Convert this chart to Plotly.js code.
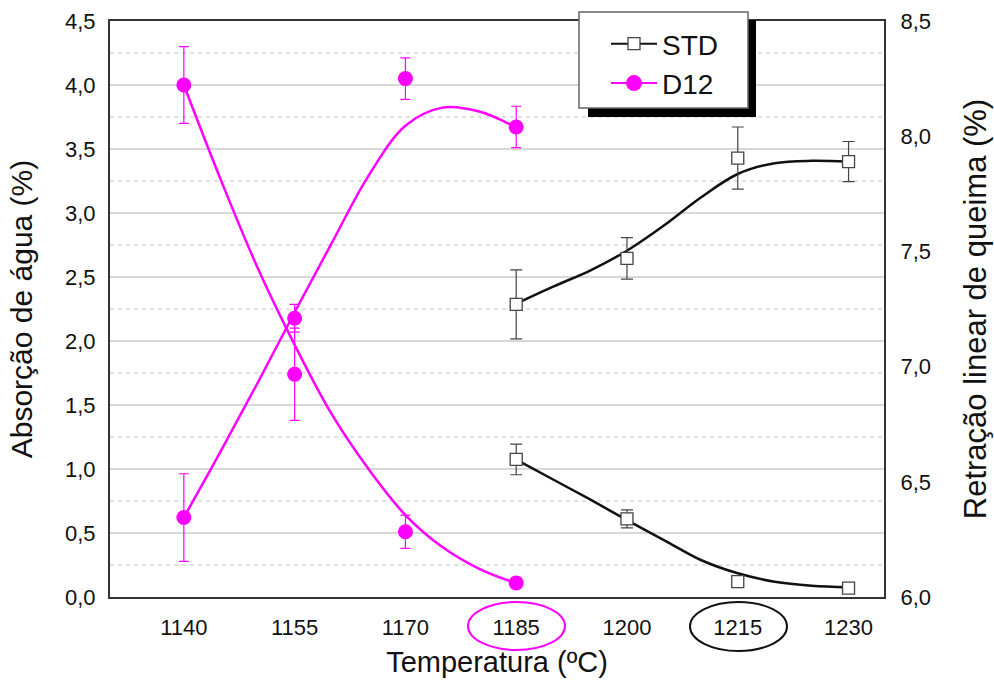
<!DOCTYPE html>
<html>
<head>
<meta charset="utf-8">
<script src="https://cdn.plot.ly/plotly-3.0.1.min.js"></script>
<style>html,body{margin:0;padding:0;background:#fff;}#chart{width:994px;height:689px;}</style>
</head>
<body>
<div id="chart"></div>
<script>
// Category positions / tick labels
const temps = [1140, 1155, 1170, 1185, 1200, 1215, 1230];
const tickLabels = ['1140', '1155', '1170', '1185', '1200', '1215', '1230'];

// D12 measurements
const d12Temps = [1140, 1155, 1170, 1185];
const d12Absorcao = [4.00, 1.74, 0.51, 0.11];
const d12AbsorcaoErr = [0.30, 0.36, 0.13, 0.02];
const d12Retracao = [6.345, 7.21, 8.25, 8.04];
const d12RetracaoErr = [0.19, 0.06, 0.09, 0.09];

// STD measurements
const stdTemps = [1185, 1200, 1215, 1230];
const stdAbsorcao = [1.075, 0.61, 0.12, 0.07];
const stdAbsorcaoErr = [0.12, 0.07, 0.03, 0.03];
const stdRetracao = [7.27, 7.47, 7.905, 7.89];
const stdRetracaoErr = [0.15, 0.09, 0.135, 0.087];

// Fitted curves
const d12FitTemps = [1140, 1145, 1150, 1155, 1160, 1165, 1170, 1175, 1180, 1185];
const d12AbsorcaoFit = [4.00, 3.26, 2.57, 1.97, 1.43, 1.00, 0.64, 0.39, 0.22, 0.107];
const d12RetracaoFit = [6.345, 6.633, 6.93, 7.236, 7.535, 7.828, 8.045, 8.124, 8.107, 8.038];
const stdFitTemps = [1185, 1190, 1195, 1200, 1205, 1210, 1215, 1220, 1225, 1230];
const stdAbsorcaoFit = [1.074, 0.918, 0.762, 0.601, 0.445, 0.289, 0.185, 0.119, 0.088, 0.076];
const stdRetracaoFit = [7.273, 7.347, 7.417, 7.503, 7.612, 7.734, 7.836, 7.883, 7.893, 7.889];

const PINK = '#ff00ff';
const BLACK = '#111111';
const FONT = 'Liberation Sans, Arial, sans-serif';

const traces = [
  // fitted curves
  {x: d12FitTemps, y: d12AbsorcaoFit, mode: 'lines', line: {color: PINK, width: 2.5, shape: 'spline', smoothing: 1}, showlegend: false, hoverinfo: 'skip'},
  {x: stdFitTemps, y: stdAbsorcaoFit, mode: 'lines', line: {color: BLACK, width: 2.5, shape: 'spline', smoothing: 1}, showlegend: false, hoverinfo: 'skip'},
  // measured points (left axis)
  {x: d12Temps, y: d12Absorcao, mode: 'markers', showlegend: false,
   marker: {symbol: 'circle', size: 15, color: PINK},
   error_y: {type: 'data', array: d12AbsorcaoErr, visible: true, color: PINK, thickness: 1.2, width: 5}},
  {x: stdTemps, y: stdAbsorcao, mode: 'markers', showlegend: false,
   marker: {symbol: 'square', size: 12, color: '#ffffff', line: {color: '#444', width: 1.3}},
   error_y: {type: 'data', array: stdAbsorcaoErr, visible: true, color: '#444', thickness: 1.2, width: 6}},
  // right axis
  {x: d12FitTemps, y: d12RetracaoFit, yaxis: 'y2', mode: 'lines', line: {color: PINK, width: 2.5, shape: 'spline', smoothing: 1}, showlegend: false, hoverinfo: 'skip'},
  {x: stdFitTemps, y: stdRetracaoFit, yaxis: 'y2', mode: 'lines', line: {color: BLACK, width: 2.5, shape: 'spline', smoothing: 1}, showlegend: false, hoverinfo: 'skip'},
  {x: d12Temps, y: d12Retracao, yaxis: 'y2', mode: 'markers', showlegend: false,
   marker: {symbol: 'circle', size: 15, color: PINK},
   error_y: {type: 'data', array: d12RetracaoErr, visible: true, color: PINK, thickness: 1.2, width: 5}},
  {x: stdTemps, y: stdRetracao, yaxis: 'y2', mode: 'markers', showlegend: false,
   marker: {symbol: 'square', size: 12, color: '#ffffff', line: {color: '#444', width: 1.3}},
   error_y: {type: 'data', array: stdRetracaoErr, visible: true, color: '#444', thickness: 1.2, width: 6}},
  // legend entries
  {x: [null], y: [null], name: 'STD', mode: 'lines+markers', line: {color: BLACK, width: 2},
   marker: {symbol: 'square', size: 12, color: '#ffffff', line: {color: '#444', width: 1.3}}},
  {x: [null], y: [null], name: 'D12', mode: 'lines+markers', line: {color: PINK, width: 2},
   marker: {symbol: 'circle', size: 16, color: PINK}}
];

function px2x(p) { return (p - 110) / 774; }
function px2y(p) { return (597 - p) / 576; }

const layout = {
  width: 994, height: 689,
  margin: {l: 110, r: 110, t: 21, b: 92},
  paper_bgcolor: '#ffffff', plot_bgcolor: '#ffffff',
  separators: ',.',
  font: {family: FONT, color: '#111'},
  showlegend: true,
  legend: {x: px2x(606), y: px2y(19), xanchor: 'left', yanchor: 'top',
           bgcolor: 'rgba(0,0,0,0)', borderwidth: 0,
           font: {family: FONT, size: 28, color: '#111'}, itemwidth: 46, tracegroupgap: 0},
  xaxis: {
    range: [1130, 1234.8], tickvals: temps, ticktext: tickLabels,
    showgrid: false, zeroline: false, ticks: '', showline: true, mirror: true,
    linecolor: '#333', linewidth: 2, ticklabelstandoff: 10,
    tickfont: {family: FONT, size: 22, color: '#111'},
    title: {text: 'Temperatura (ºC)', font: {family: FONT, size: 29, color: '#111'}, standoff: 12}
  },
  yaxis: {
    range: [0, 4.5], dtick: 0.5, tick0: 0, tickformat: '.1f',
    showgrid: true, gridcolor: '#d8d8d8', gridwidth: 1.5, zeroline: false,
    minor: {dtick: 0.25, tick0: 0, showgrid: true, gridcolor: '#e0e0e0', griddash: '4px,4px', gridwidth: 1.2},
    ticks: '', showline: true, mirror: false, linecolor: '#333', linewidth: 2, ticklabelstandoff: 8,
    tickfont: {family: FONT, size: 22, color: '#111'},
    title: {text: 'Absorção de água (%)', font: {family: FONT, size: 30, color: '#111'}, standoff: 24}
  },
  yaxis2: {
    overlaying: 'y', side: 'right', range: [6, 8.5], dtick: 0.5, tick0: 6, tickformat: '.1f',
    showgrid: false, zeroline: false, ticks: '', showline: true, linecolor: '#333', linewidth: 2,
    ticklabelstandoff: 10,
    tickfont: {family: FONT, size: 22, color: '#111'},
    title: {text: 'Retração linear de queima (%)', font: {family: FONT, size: 31, color: '#111'}, standoff: 34}
  },
  shapes: [
    // legend shadow and frame
    {type: 'rect', xref: 'paper', yref: 'paper', x0: px2x(588), x1: px2x(756), y0: px2y(117), y1: px2y(20),
     fillcolor: '#000', line: {width: 0}, layer: 'above'},
    {type: 'rect', xref: 'paper', yref: 'paper', x0: px2x(579), x1: px2x(748), y0: px2y(108), y1: px2y(12),
     fillcolor: '#fff', line: {color: '#666', width: 1.5}, layer: 'above'},
    // highlight ellipses around tick labels
    {type: 'circle', xref: 'paper', yref: 'paper', x0: px2x(468), x1: px2x(565), y0: px2y(650), y1: px2y(602),
     line: {color: PINK, width: 2}},
    {type: 'circle', xref: 'paper', yref: 'paper', x0: px2x(690), x1: px2x(787), y0: px2y(651), y1: px2y(602),
     line: {color: '#111', width: 2}}
  ]
};

Plotly.newPlot('chart', traces, layout, {displayModeBar: false, staticPlot: true});
</script>
</body>
</html>
